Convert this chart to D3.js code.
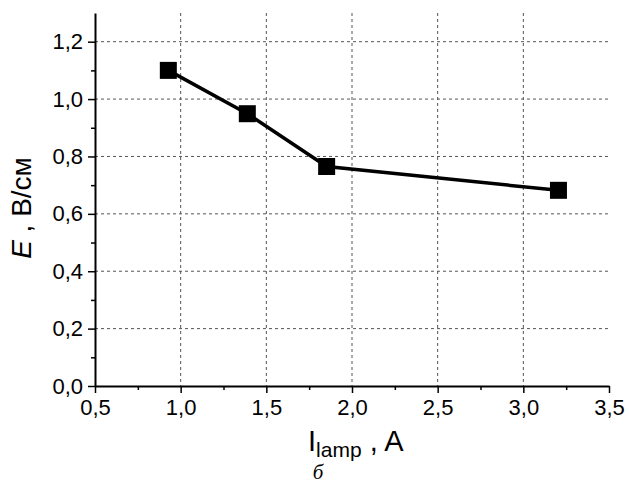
<!DOCTYPE html>
<html>
<head>
<meta charset="utf-8">
<script src="https://cdn.jsdelivr.net/npm/d3@7"></script>
<style>
  body { margin: 0; background: #fff; }
  text { font-family: "Liberation Sans", Arial, sans-serif; }
</style>
</head>
<body>
<div id="chart"></div>
<script>
// data
let current = [0.928, 1.389, 1.852, 3.205]
let field = [1.100, 0.949, 0.765, 0.682]
let xTicks = [0.5, 1.0, 1.5, 2.0, 2.5, 3.0, 3.5]
let yTicks = [0.0, 0.2, 0.4, 0.6, 0.8, 1.0, 1.2]

let W = 629, H = 486
let margin = {top: 13, right: 20, bottom: 100, left: 95}
let width = 609 - margin.left,
    height = 386 - margin.top

let svg = d3.select("#chart")
  .append("svg")
    .attr("width", W)
    .attr("height", H)

let plot = svg.append("g")
    .attr("transform", "translate(" + margin.left + "," + margin.top + ")")

let x = d3.scaleLinear().domain([0.5, 3.5]).range([0, width])
let y = d3.scaleLinear().domain([0, 1.3]).range([height, 0])

let fmt = d => d3.format(".1f")(d).replace(".", ",")

// grid
plot.append("g")
  .selectAll("line")
  .data(xTicks.slice(1, -1))
  .enter().append("line")
    .attr("x1", d => x(d)).attr("x2", d => x(d))
    .attr("y1", 0).attr("y2", height)
    .attr("stroke", "#555").attr("stroke-width", 1)
    .attr("stroke-dasharray", "3,3")
plot.append("g")
  .selectAll("line")
  .data(yTicks.slice(1))
  .enter().append("line")
    .attr("x1", 0).attr("x2", width)
    .attr("y1", d => y(d)).attr("y2", d => y(d))
    .attr("stroke", "#555").attr("stroke-width", 1)
    .attr("stroke-dasharray", "3,3")

// minor ticks
let xMinor = d3.range(0.75, 3.5, 0.5)
let yMinor = d3.range(0.1, 1.3, 0.2)
plot.append("g")
    .attr("transform", "translate(0," + height + ")")
    .call(d3.axisBottom(x).tickValues(xMinor).tickSize(4).tickFormat(""))
    .call(g => g.select(".domain").remove())
    .selectAll("line").attr("stroke-width", 1.5)
plot.append("g")
    .call(d3.axisLeft(y).tickValues(yMinor).tickSize(4).tickFormat(""))
    .call(g => g.select(".domain").remove())
    .selectAll("line").attr("stroke-width", 1.5)

// major axes
let xAxis = plot.append("g")
    .attr("transform", "translate(0," + height + ")")
    .call(d3.axisBottom(x).tickValues(xTicks).tickSize(7).tickSizeOuter(0).tickPadding(6).tickFormat(fmt))
xAxis.select(".domain").attr("stroke-width", 2)
xAxis.selectAll("line").attr("stroke-width", 1.5)
xAxis.selectAll("text").style("font-size", "22px").attr("fill", "#000")

let yAxis = plot.append("g")
    .call(d3.axisLeft(y).tickValues(yTicks).tickSize(7).tickSizeOuter(0).tickPadding(5).tickFormat(fmt))
yAxis.select(".domain").attr("stroke-width", 2)
yAxis.selectAll("line").attr("stroke-width", 1.5)
yAxis.selectAll("text").style("font-size", "22px").attr("fill", "#000")

// line and markers
let pts = current.map((c, i) => ({x: c, y: field[i]}))
plot.append("path")
    .datum(pts)
    .attr("fill", "none")
    .attr("stroke", "#000")
    .attr("stroke-width", 3.5)
    .attr("d", d3.line().x(d => x(d.x)).y(d => y(d.y)))
plot.selectAll(".pt")
  .data(pts)
  .enter().append("rect")
    .attr("class", "pt")
    .attr("x", d => x(d.x) - 8.5)
    .attr("y", d => y(d.y) - 8.5)
    .attr("width", 17)
    .attr("height", 17)
    .attr("fill", "#000")

// axis titles
let yt = svg.append("text")
    .attr("transform", "translate(31,208) rotate(-90)")
    .attr("text-anchor", "middle")
    .style("font-size", "28px")
yt.append("tspan").style("font-style", "italic").text("E")
yt.append("tspan").text(" , В/см")

let xt = svg.append("text")
    .attr("x", 308)
    .attr("y", 451)
    .style("font-size", "29px")
xt.append("tspan").text("I")
xt.append("tspan").attr("dy", 6).style("font-size", "21px").text("lamp")
xt.append("tspan").attr("dy", -6).text(" , A")

svg.append("text")
    .attr("x", 318)
    .attr("y", 479)
    .attr("text-anchor", "middle")
    .style("font-family", "'Liberation Serif', serif")
    .style("font-style", "italic")
    .style("font-size", "21px")
    .text("б")
</script>
</body>
</html>
